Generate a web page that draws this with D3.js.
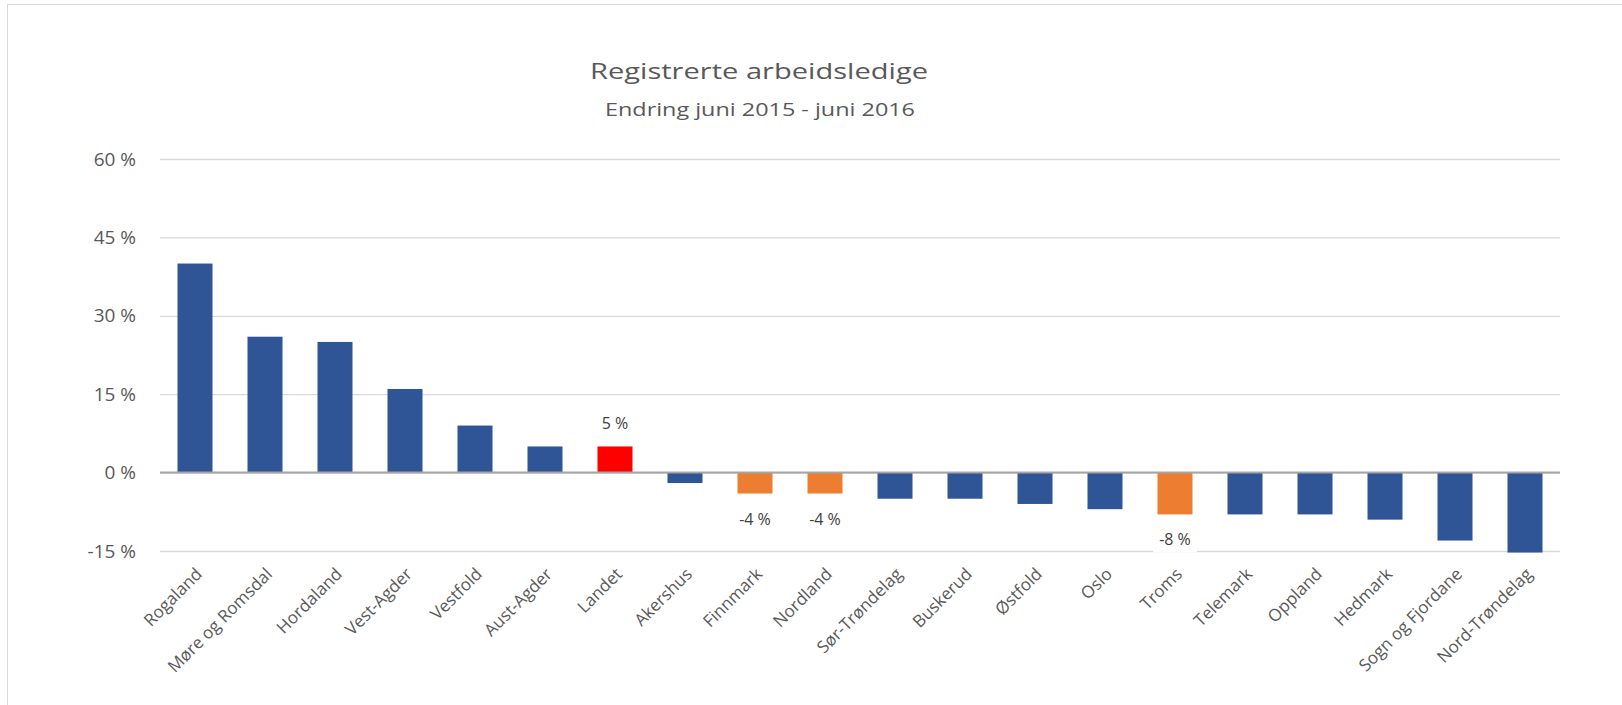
<!DOCTYPE html>
<html>
<head>
<meta charset="utf-8">
<script src="https://cdn.jsdelivr.net/npm/d3@7"></script>
<style>
  html, body { margin: 0; padding: 0; background: #fff; }
  svg { display: block; font-family: "Open Sans", "Noto Sans", sans-serif; }
</style>
</head>
<body>
<svg id="chart" width="1622" height="705"></svg>
<script>
const categories = ["Rogaland", "Møre og Romsdal", "Hordaland", "Vest-Agder", "Vestfold", "Aust-Agder", "Landet", "Akershus", "Finnmark", "Nordland", "Sør-Trøndelag", "Buskerud", "Østfold", "Oslo", "Troms", "Telemark", "Oppland", "Hedmark", "Sogn og Fjordane", "Nord-Trøndelag"];
const values = [40, 26, 25, 16, 9, 5, 5, -2, -4, -4, -5, -5, -6, -7, -8, -8, -8, -9, -13, -15.3];
const groups = ["fylke", "fylke", "fylke", "fylke", "fylke", "fylke", "landet", "fylke", "nord", "nord", "fylke", "fylke", "fylke", "fylke", "nord", "fylke", "fylke", "fylke", "fylke", "fylke"];
const labelled = ["Landet", "Finnmark", "Nordland", "Troms"];
const yTicks = [-15, 0, 15, 30, 45, 60];
const title = "Registrerte arbeidsledige";
const subtitle = "Endring juni 2015 - juni 2016";

const colorOf = { fylke: "#2F5597", landet: "#FF0000", nord: "#ED7D31" };

const svg = d3.select("#chart");
const plot = { left: 160, right: 1560, top: 159, bottom: 551 };

// frame
svg.append("rect").attr("x", 7.5).attr("y", 4.5).attr("width", 1640).attr("height", 720)
  .attr("fill", "none").attr("stroke", "#d9d9d9").attr("stroke-width", 1);

const x = d3.scaleBand().domain(categories).range([plot.left, plot.right]).paddingInner(0.5).paddingOuter(0.25);
const y = d3.scaleLinear().domain([-15, 60]).range([plot.bottom, plot.top]);

// title
svg.append("text").attr("x", 759).attr("y", 79).attr("text-anchor", "middle")
  .attr("font-size", 22).attr("fill", "#595959").attr("textLength", 338).attr("lengthAdjust", "spacingAndGlyphs")
  .text(title);
svg.append("text").attr("x", 760).attr("y", 115.5).attr("text-anchor", "middle")
  .attr("font-size", 17.5).attr("fill", "#595959").attr("textLength", 310).attr("lengthAdjust", "spacingAndGlyphs")
  .text(subtitle);

// gridlines
const yAxis = d3.axisLeft(y).tickValues(yTicks).tickSize(-(plot.right - plot.left)).tickFormat(d => String(d) + " %");
const gy = svg.append("g").attr("transform", `translate(${plot.left},0)`).call(yAxis);
gy.select(".domain").remove();
gy.selectAll(".tick line").attr("stroke", "#d9d9d9").attr("stroke-width", 1.3);
gy.selectAll(".tick text").attr("x", -24).attr("font-size", 19).attr("fill", "#595959")
  .attr("font-family", "'Open Sans', 'Noto Sans', sans-serif");

// bars
svg.append("g").selectAll("rect").data(categories).join("rect")
  .attr("x", d => x(d))
  .attr("width", x.bandwidth())
  .attr("y", (d, i) => Math.min(y(values[i]), y(0)))
  .attr("height", (d, i) => Math.abs(y(values[i]) - y(0)))
  .attr("fill", (d, i) => colorOf[groups[i]]);

// zero line
svg.append("line").attr("x1", plot.left).attr("x2", plot.right).attr("y1", y(0)).attr("y2", y(0))
  .attr("stroke", "#a6a6a6").attr("stroke-width", 2);

// data labels
const lab = svg.append("g");
categories.forEach((c, i) => {
  if (!labelled.includes(c)) return;
  const v = values[i];
  const cx = x(c) + x.bandwidth() / 2;
  const ty = v >= 0 ? y(v) - 17 : y(v) + 31;
  const t = lab.append("text").attr("x", cx).attr("y", ty).attr("text-anchor", "middle")
    .attr("font-size", 16).attr("fill", "#404040").text(String(Math.round(v)) + " %");
  const bb = t.node().getBBox();
  lab.insert("rect", "text").attr("x", bb.x - 6).attr("y", bb.y - 2).attr("width", bb.width + 12).attr("height", bb.height + 4).attr("fill", "#fff");
});

// category labels
svg.append("g").selectAll("text").data(categories).join("text")
  .attr("transform", d => `translate(${x(d) + x.bandwidth() / 2 + 4},${plot.bottom + 20}) rotate(-45)`)
  .attr("text-anchor", "end")
  .attr("dy", "0.35em")
  .attr("font-size", 17)
  .attr("fill", "#595959")
  .text(d => d);
</script>
</body>
</html>
